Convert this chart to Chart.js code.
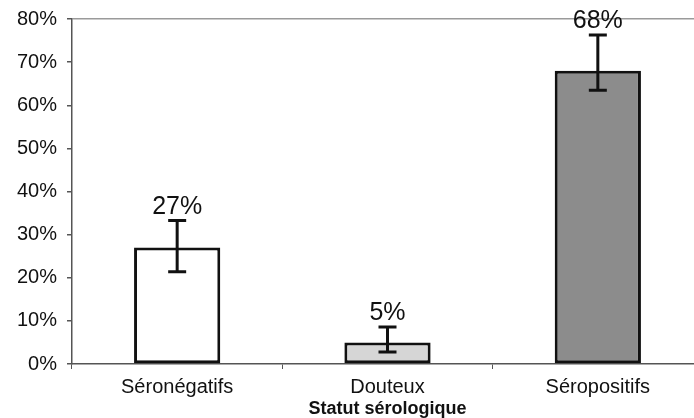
<!DOCTYPE html>
<html>
<head>
<meta charset="utf-8">
<script src="https://cdn.jsdelivr.net/npm/chart.js@4/dist/chart.umd.min.js"></script>
<style>
  html, body { margin: 0; padding: 0; background: #fff; overflow: hidden; }
  #wrap { width: 703px; height: 418px; }
</style>
</head>
<body>
<div id="wrap"><canvas id="myChart" width="703" height="418"></canvas></div>
<script>
// categories and values (%)
let categories = ["Séronégatifs", "Douteux", "Séropositifs"];
let values = [27, 5, 68];
let err_low = [21.4, 2.8, 63.5];
let err_high = [33.3, 8.6, 76.3];
let bar_colors = ["#ffffff", "#d6d6d6", "#8c8c8c"];
let y_ticks = [0, 10, 20, 30, 40, 50, 60, 70, 80];

// error bars + value labels on top of them
const errorBarPlugin = {
    id: "errorBars",
    afterDatasetsDraw(chart) {
        const ctx = chart.ctx;
        const y = chart.scales.y;
        const meta = chart.getDatasetMeta(0);
        ctx.save();
        ctx.strokeStyle = "#111";
        ctx.lineWidth = 3;
        meta.data.forEach((bar, i) => {
            const x = bar.x;
            const yLow = y.getPixelForValue(err_low[i]);
            const yHigh = y.getPixelForValue(err_high[i]);
            ctx.beginPath();
            ctx.moveTo(x, yLow);
            ctx.lineTo(x, yHigh);
            ctx.moveTo(x - 9, yLow);
            ctx.lineTo(x + 9, yLow);
            ctx.moveTo(x - 9, yHigh);
            ctx.lineTo(x + 9, yHigh);
            ctx.stroke();

            ctx.fillStyle = "#111";
            ctx.font = "25px 'Liberation Sans', Arial, sans-serif";
            ctx.textAlign = "center";
            ctx.textBaseline = "bottom";
            ctx.fillText(values[i] + "%", x, yHigh - 1);
        });
        ctx.restore();
    },
};

const config = {
    type: "bar",
    data: {
        labels: categories,
        datasets: [
            {
                data: values,
                backgroundColor: bar_colors,
                borderColor: "#111",
                borderWidth: 3,
                borderSkipped: false,
                barPercentage: 0.41,
                categoryPercentage: 1,
            },
        ],
    },
    options: {
        responsive: false,
        animation: false,
        layout: { padding: { top: 19, left: 0, right: 0, bottom: 0 } },
        plugins: {
            legend: { display: false },
            tooltip: { enabled: false },
        },
        scales: {
            x: {
                afterFit: (scale) => { scale.height = 54; },
                grid: {
                    offset: true,
                    color: "rgba(0,0,0,0)",
                    tickColor: "#555",
                    tickLength: 5,
                },
                border: { display: true, color: "#555", width: 1.5 },
                ticks: {
                    color: "#111",
                    padding: 6,
                    font: { family: "'Liberation Sans', Arial, sans-serif", size: 20 },
                },
                title: {
                    display: true,
                    text: "Statut sérologique",
                    color: "#111",
                    padding: { top: 0, bottom: 0 },
                    font: { family: "'Liberation Sans', Arial, sans-serif", size: 18, weight: "bold", lineHeight: 0.95 },
                },
            },
            y: {
                min: 0,
                max: 80,
                afterFit: (scale) => {
                    scale.width = 72;
                    scale.paddingTop = 0;
                    scale.paddingBottom = 0;
                },
                afterBuildTicks: (scale) => {
                    scale.ticks = y_ticks.map((v) => ({ value: v }));
                },
                grid: {
                    color: (c) => (c.tick && c.tick.value === 80 ? "#9a9a9a" : "rgba(0,0,0,0)"),
                    lineWidth: 1.5,
                    tickColor: "#555",
                    tickLength: 5,
                },
                border: { display: true, color: "#555", width: 1.5 },
                ticks: {
                    color: "#111",
                    padding: 10,
                    font: { family: "'Liberation Sans', Arial, sans-serif", size: 20 },
                    callback: (v) => v + "%",
                },
            },
        },
    },
    plugins: [errorBarPlugin],
};

const ctx1 = document.getElementById("myChart").getContext("2d");
const chart = new Chart(ctx1, config);
</script>
</body>
</html>
